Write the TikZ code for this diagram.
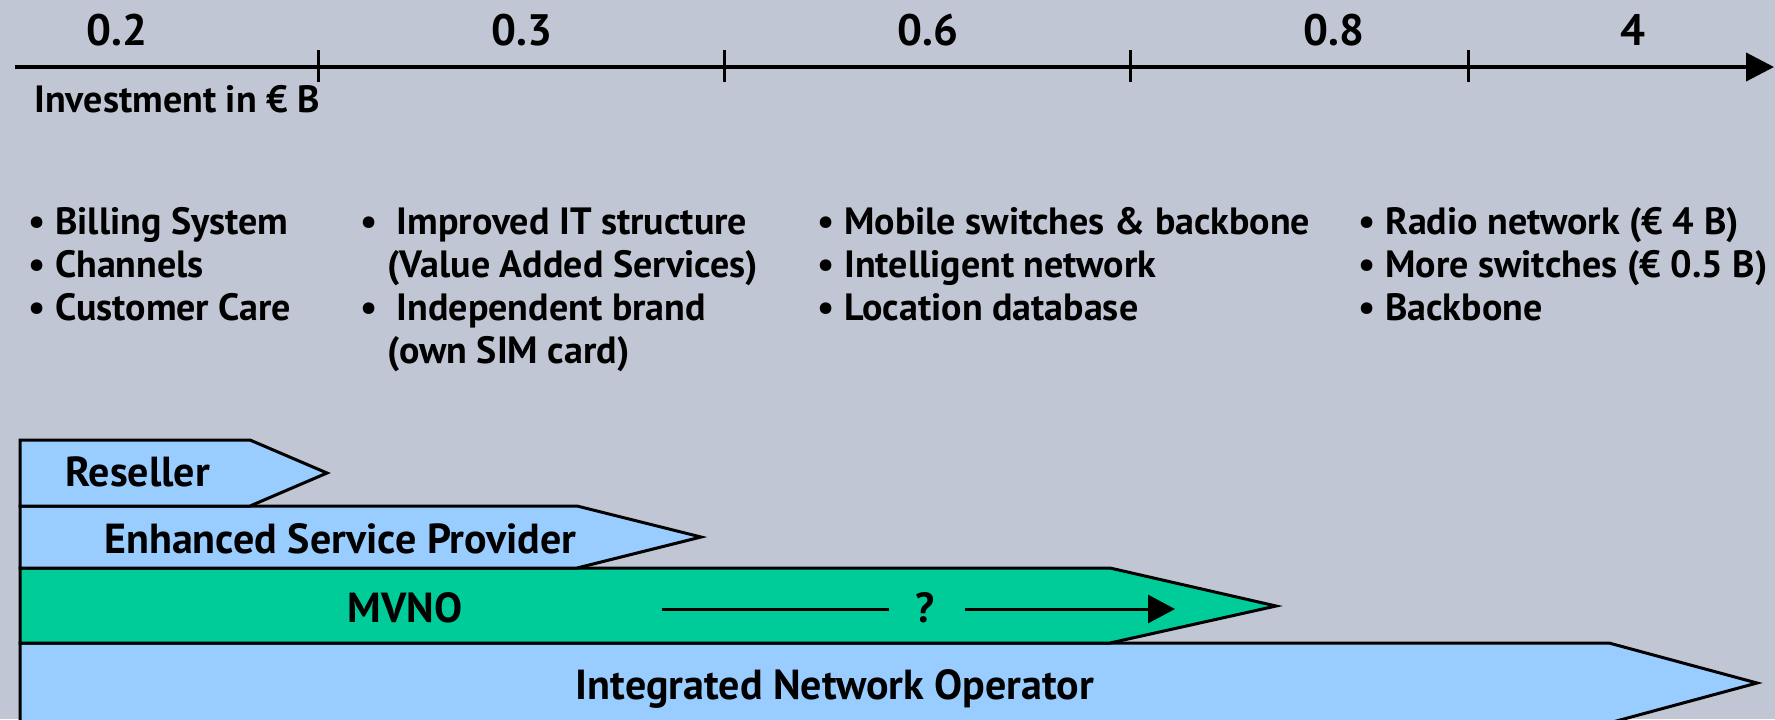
\documentclass[tikz,border=0pt]{standalone}
\usepackage{fontspec}
\setmainfont{PT Sans}
\usetikzlibrary{arrows.meta}
\definecolor{bgcol}{RGB}{192,198,211}
\definecolor{boxblue}{RGB}{153,204,255}
\definecolor{boxgreen}{RGB}{0,204,153}
\tikzset{
  lab/.style={font=\bfseries\fontsize{19}{22}\selectfont, inner sep=0pt, anchor=base west},
  blab/.style={font=\bfseries\fontsize{21}{24}\selectfont, inner sep=0pt, anchor=base west},
  clab/.style={font=\bfseries\fontsize{21}{24}\selectfont, inner sep=0pt, anchor=base},
  num/.style={font=\bfseries\fontsize{22}{24}\selectfont, inner sep=0pt, anchor=base},
  band/.style={draw=black, line width=1.5pt, line join=miter},
  axisline/.style={line width=2pt, -{Triangle[length=14pt,width=14pt]}},
  tickline/.style={line width=1.5pt},
  qarrow/.style={line width=1.5pt},
}
\begin{document}
\begin{tikzpicture}[x=0.5pt,y=-0.5pt]
\useasboundingbox (0,0) rectangle (1775,719);
\fill[bgcol] (0,0) rectangle (1775,719);

% axis
\coordinate (ax0) at (15,67);
\coordinate (ax1) at (1774,67);
\draw[axisline] (ax0) -- (ax1);
\foreach \x in {318,724,1130,1468} \draw[tickline] (\x,50) -- (\x,82);

\node[num] (n1) at (117,45) {0.2};
\node[num] (n2) at (522,45) {0.3};
\node[num] (n3) at (928,45) {0.6};
\node[num] (n4) at (1334,45) {0.8};
\node[num] (n5) at (1633,45) {4};
\node[lab] (inv) at (34,112) {Investment in € B};

% column 1
\node[lab] (c1a) at (28,234) {• Billing System};
\node[lab] (c1b) at (28,277) {• Channels};
\node[lab] (c1c) at (28,320) {• Customer Care};
% column 2
\node[lab] (c2a) at (360,234) {•\ \ Improved IT structure};
\node[lab] (c2b) at (387,277) {(Value Added Services)};
\node[lab] (c2c) at (360,320) {•\ \ Independent brand};
\node[lab] (c2d) at (387,363) {(own SIM card)};
% column 3
\node[lab] (c3a) at (817,234) {• Mobile switches \& backbone};
\node[lab] (c3b) at (817,277) {• Intelligent network};
\node[lab] (c3c) at (817,320) {• Location database};
% column 4
\node[lab] (c4a) at (1358,234) {• Radio network (€ 4 B)};
\node[lab] (c4b) at (1358,277) {• More switches (€ 0.5 B)};
\node[lab] (c4c) at (1358,320) {• Backbone};

% bands
\draw[band, fill=boxblue] (20,643) -- (1609,643) -- (1757,683) -- (1609,723) -- (20,723) -- cycle;
\draw[band, fill=boxgreen] (20,568) -- (1110,568) -- (1276,606) -- (1110,643) -- (20,643) -- cycle;
\draw[band, fill=boxblue] (20,506) -- (577,506) -- (701,537) -- (577,568) -- (20,568) -- cycle;
\draw[band, fill=boxblue] (20,440) -- (250,440) -- (327,473) -- (250,506) -- (20,506) -- cycle;

\node[blab] (res) at (65,486) {Reseller};
\node[blab] (esp) at (104,553) {Enhanced Service Provider};
\node[clab] (mvno) at (405,622) {MVNO};
\node[clab] (ino) at (835,699) {Integrated Network Operator};
\node[clab] (q) at (925,622) {?};

\coordinate (qa) at (662,609);
\coordinate (qb) at (889,609);
\coordinate (qc) at (965,609);
\coordinate (qd) at (1175,609);
\draw[qarrow] (qa) -- (qb);
\draw[qarrow, -{Triangle[length=13.5pt,width=14pt]}] (qc) -- (qd);
\end{tikzpicture}
\end{document}
